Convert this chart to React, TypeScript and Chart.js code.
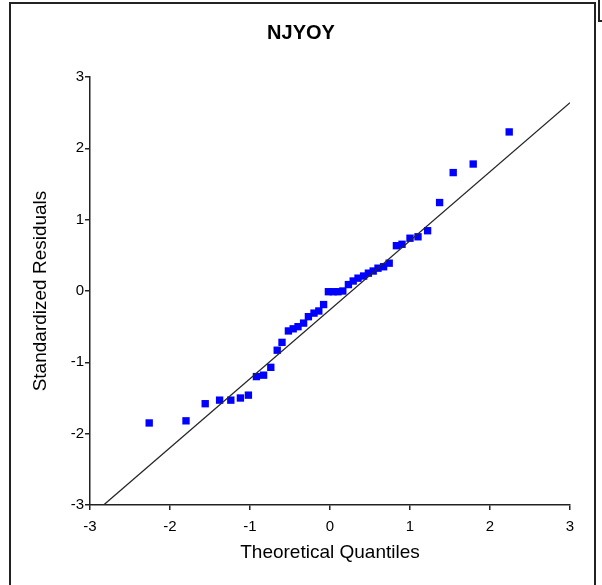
import React, { useEffect, useRef } from "react";
import { Chart, registerables } from "chart.js";

Chart.register(...registerables);

const chartTitle = "NJYOY";
const xAxisTitle = "Theoretical Quantiles";
const yAxisTitle = "Standardized Residuals";

const theoreticalQuantiles = [
  -2.26, -1.8, -1.56, -1.38, -1.24, -1.12, -1.02, -0.92, -0.83, -0.74, -0.66, -0.6, -0.52, -0.46,
  -0.4, -0.33, -0.27, -0.2, -0.14, -0.08, -0.02, 0.04, 0.1, 0.16, 0.23, 0.29, 0.35, 0.42, 0.48,
  0.54, 0.6, 0.67, 0.74, 0.83, 0.9, 1.0, 1.1, 1.22, 1.37, 1.54, 1.79, 2.24,
];
const standardizedResiduals = [
  -1.85, -1.82, -1.58, -1.53, -1.53, -1.5, -1.46, -1.2, -1.18, -1.07, -0.83, -0.72, -0.56, -0.53,
  -0.5, -0.45, -0.36, -0.31, -0.28, -0.19, -0.01, -0.01, -0.01, 0.0, 0.09, 0.14, 0.18, 0.21, 0.25,
  0.28, 0.32, 0.34, 0.39, 0.635, 0.655, 0.74, 0.76, 0.845, 1.24, 1.66, 1.78, 2.23,
];
const refLineX = [-2.83, 3];
const refLineY = [-3, 2.64];

const axisMin = -3;
const axisMax = 3;

export default function App() {
  const ref = useRef<HTMLCanvasElement>(null);
  useEffect(() => {
    const family = "'Liberation Sans', Arial, sans-serif";
    const chart = new Chart(ref.current as HTMLCanvasElement, {
      type: "scatter",
      data: {
        datasets: [
          {
            type: "line",
            data: refLineX.map((x, i) => ({ x, y: refLineY[i] })),
            borderColor: "#262626",
            borderWidth: 1.3,
            pointRadius: 0,
            fill: false,
          } as any,
          {
            type: "scatter",
            data: theoreticalQuantiles.map((x, i) => ({ x, y: standardizedResiduals[i] })),
            backgroundColor: "#0000ff",
            borderColor: "#0000ff",
            borderWidth: 0,
            pointStyle: "rect",
            pointRadius: 5.2,
          },
        ],
      },
      options: {
        responsive: false,
        animation: false,
        devicePixelRatio: 1,
        layout: { padding: { left: 0, right: 0, top: 0, bottom: 0 } },
        plugins: {
          legend: { display: false },
          tooltip: { enabled: false },
          title: {
            display: true,
            text: chartTitle,
            color: "#000",
            font: { family, size: 20, weight: "bold" },
            padding: { top: 21, bottom: 32 },
          },
        },
        scales: {
          x: {
            type: "linear",
            min: axisMin,
            max: axisMax,
            ticks: { stepSize: 1, color: "#000", font: { family, size: 15 }, padding: 8 },
            grid: { display: true, drawOnChartArea: false, drawTicks: true, tickLength: 5, color: "#222", lineWidth: 1.5 },
            border: { display: true, color: "#222", width: 1.5 },
            title: {
              display: true,
              text: xAxisTitle,
              color: "#000",
              font: { family, size: 19 },
              padding: { top: 4, bottom: 21 },
            },
            afterFit: (s: any) => {
              s.height = 80;
            },
          },
          y: {
            type: "linear",
            min: axisMin,
            max: axisMax,
            ticks: { stepSize: 1, color: "#000", font: { family, size: 15 }, padding: 1 },
            grid: { display: true, drawOnChartArea: false, drawTicks: true, tickLength: 5, color: "#222", lineWidth: 1.5 },
            border: { display: true, color: "#222", width: 1.5 },
            title: {
              display: true,
              text: yAxisTitle,
              color: "#000",
              font: { family, size: 19 },
              padding: { top: 29, bottom: 4 },
            },
            afterFit: (s: any) => {
              s.width = 90;
            },
          },
          rightSpace: {
            type: "linear",
            position: "right",
            display: true,
            grid: { display: false, drawTicks: false },
            border: { display: false },
            ticks: { display: false },
            afterFit: (s: any) => {
              s.width = 32;
            },
          },
        },
      },
    });
    return () => chart.destroy();
  }, []);

  return (
    <div style={{ position: "fixed", left: 0, top: 0, width: 602, height: 585, background: "#fff", overflow: "hidden" }}>
      <canvas ref={ref} width={602} height={585} style={{ position: "absolute", left: 0, top: 0 }} />
      <div
        style={{
          position: "absolute",
          left: 9,
          top: 2,
          width: 587,
          height: 620,
          boxSizing: "border-box",
          borderLeft: "2px solid #222",
          borderTop: "2px solid #222",
          borderRight: "2px solid #222",
          pointerEvents: "none",
        }}
      />
      <div
        style={{
          position: "absolute",
          left: 598,
          top: 0,
          width: 6,
          height: 22,
          boxSizing: "border-box",
          borderLeft: "2px solid #222",
          borderBottom: "2px solid #222",
          pointerEvents: "none",
        }}
      />
    </div>
  );
}
